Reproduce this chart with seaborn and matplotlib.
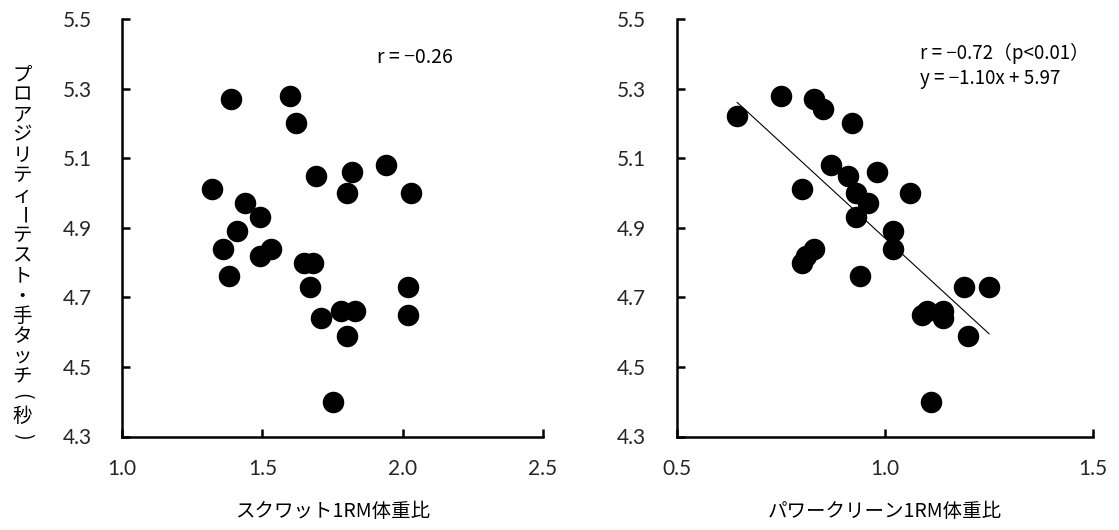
import matplotlib
matplotlib.use("Agg")
import matplotlib.pyplot as plt
import seaborn as sns
import numpy as np
import pandas as pd

# スクワット1RM体重比 vs プロアジリティーテスト
squat_ratio = [1.39, 1.60, 1.62, 1.69, 1.82, 1.94, 1.80, 2.03, 1.32, 1.44, 1.49, 1.41, 1.36,
               1.53, 1.49, 1.65, 1.68, 1.38, 1.67, 2.02, 1.71, 1.78, 1.83, 2.02, 1.80, 1.75]
agility_squat = [5.27, 5.28, 5.20, 5.05, 5.06, 5.08, 5.00, 5.00, 5.01, 4.97, 4.93, 4.89, 4.84,
                 4.84, 4.82, 4.80, 4.80, 4.76, 4.73, 4.73, 4.64, 4.66, 4.66, 4.65, 4.59, 4.40]

# パワークリーン1RM体重比 vs プロアジリティーテスト
clean_ratio = [0.645, 0.75, 0.83, 0.85, 0.92, 0.87, 0.91, 0.98, 0.80, 0.93, 1.06, 0.96, 0.93,
               1.02, 1.02, 0.83, 0.81, 0.80, 0.94, 1.19, 1.25, 1.09, 1.10, 1.14, 1.14, 1.20, 1.11]
agility_clean = [5.22, 5.28, 5.27, 5.24, 5.20, 5.08, 5.05, 5.06, 5.01, 5.00, 5.00, 4.97, 4.93,
                 4.89, 4.84, 4.84, 4.82, 4.80, 4.76, 4.73, 4.73, 4.65, 4.66, 4.66, 4.64, 4.59, 4.40]

# regression for the power clean panel
slope, intercept = -1.10, 5.97

y_ticks = [4.3, 4.5, 4.7, 4.9, 5.1, 5.3, 5.5]
x_ticks_left = [1.0, 1.5, 2.0, 2.5]
x_ticks_right = [0.5, 1.0, 1.5]

x_label_left = "スクワット1RM体重比"
x_label_right = "パワークリーン1RM体重比"
y_label = "プロアジリティーテスト・手タッチ(秒)"
note_left = ["r = \u22120.26"]
note_right = ["r = \u22120.72（p<0.01）", "y = \u22121.10x + 5.97"]

sns.set_theme(style="white")
plt.rcParams["font.family"] = ["Noto Sans CJK JP", "DejaVu Sans"]

W, H = 1119, 530
fig = plt.figure(figsize=(W / 100, H / 100), dpi=100)
ax1 = fig.add_axes([122 / W, 1 - 436.5 / H, (543 - 122) / W, (436.5 - 19) / H])
ax2 = fig.add_axes([676.7 / W, 1 - 436.5 / H, (1093.3 - 676.7) / W, (436.5 - 19) / H])

df1 = pd.DataFrame({"x": squat_ratio, "y": agility_squat})
df2 = pd.DataFrame({"x": clean_ratio, "y": agility_clean})

sns.scatterplot(data=df1, x="x", y="y", ax=ax1, s=240, color="black",
                edgecolor="black", linewidth=0, zorder=3, clip_on=False)
sns.scatterplot(data=df2, x="x", y="y", ax=ax2, s=240, color="black",
                edgecolor="black", linewidth=0, zorder=3, clip_on=False)

fit_x = np.array([min(clean_ratio), max(clean_ratio)])
sns.lineplot(x=fit_x, y=slope * fit_x + intercept, ax=ax2, color="black",
             linewidth=0.8, zorder=2)

tick_font = {"family": "Lato", "size": 15}
for ax, xt in ((ax1, x_ticks_left), (ax2, x_ticks_right)):
    ax.set_xlim(xt[0], xt[-1])
    ax.set_ylim(y_ticks[0], y_ticks[-1])
    ax.set_xticks(xt)
    ax.set_yticks(y_ticks)
    ax.set_xticklabels([f"{v:.1f}" for v in xt], fontdict=tick_font)
    ax.set_yticklabels([f"{v:.1f}" for v in y_ticks], fontdict=tick_font)
    ax.tick_params(direction="in", length=5.5, width=1.8, color="black",
                   bottom=True, left=True, top=False, right=False)
    ax.tick_params(axis="y", pad=22)
    ax.tick_params(axis="x", pad=16)
    for side in ("top", "right"):
        ax.spines[side].set_visible(False)
    for side in ("left", "bottom"):
        ax.spines[side].set_linewidth(1.8)
        ax.spines[side].set_color("black")
    ax.set_ylabel("")
    ax.set_facecolor("white")

ax1.set_xlabel(x_label_left, fontsize=14, labelpad=16, color="black")
ax2.set_xlabel(x_label_right, fontsize=14, labelpad=16, color="black")

ax1.text(1.91, 5.39, note_left[0], fontsize=14, va="center", ha="left", color="black")
ax2.text(1.084, 5.40, note_right[0], fontsize=13.5, va="center", ha="left", color="black")
ax2.text(1.084, 5.33, note_right[1], fontsize=13.5, va="center", ha="left", color="black")

# vertical (tategaki) y-axis label, one glyph per row
rotated = {"ー", "(", ")"}
top_px, step_px = 75, 20.1
for i, ch in enumerate(y_label):
    fig.text(22 / W, 1 - (top_px + i * step_px) / H, ch, fontsize=14,
             ha="center", va="center", rotation=-90 if ch in rotated else 0,
             color="black")

fig.savefig("out.png", dpi=100, facecolor="white")
